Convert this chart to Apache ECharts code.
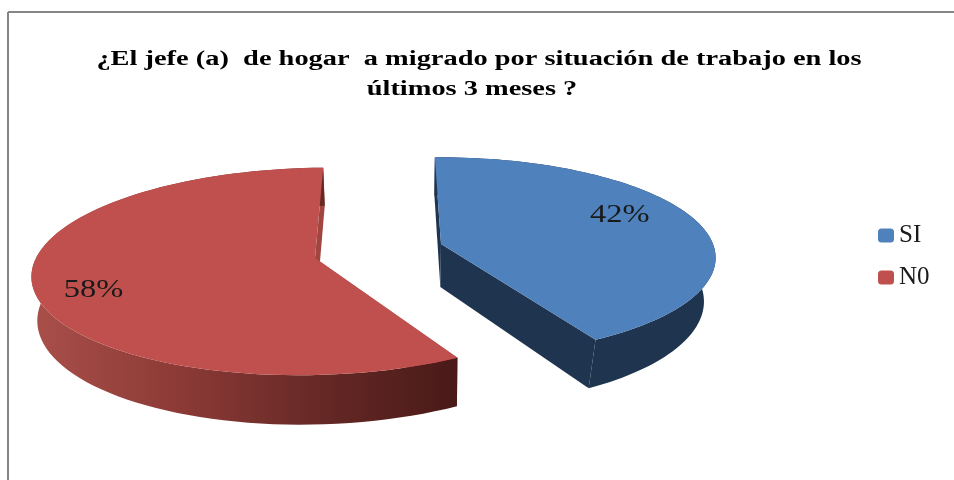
<!DOCTYPE html>
<html>
<head>
<meta charset="utf-8">
<style>
  html, body { margin: 0; padding: 0; background: #fff; }
  #chart { width: 954px; height: 480px; }
</style>
<script src="https://cdn.jsdelivr.net/npm/echarts@6/dist/echarts.min.js"></script>
</head>
<body>
<div id="chart"></div>
<script>
// datos
const sliceNames = ['SI', 'N0'];
const sliceValues = [42, 58];
const titleLines = [
  '¿El jefe (a)  de hogar  a migrado por situación de trabajo en los',
  'últimos 3 meses ?'
];

// forma de cada porcion (pastel 3D con perspectiva)
const vanishX = 424;
const tilt = 0.13;
const depth = 43;
const startDeg = -91;
const sliceShape = [
  { dx: 17, apexY: 244, rx: 272, ry: 98, base: 0.96, labelR: 0.7, labelDy: -11 },
  { dx: -109, apexY: 258, rx: 279, ry: 102, base: 0.985, labelR: 0.79, labelDy: 10 }
];
const sliceColors = ['#4F81BD', '#C0504D'];
const wallColors = ['#1F344E', '#A0453F'];
const rimFill = [
  '#1F344E',
  {
    type: 'linear', x: 33, y: 0, x2: 453, y2: 0, global: true,
    colorStops: [
      { offset: 0, color: '#A94F4A' },
      { offset: 0.35, color: '#8C3A36' },
      { offset: 0.7, color: '#642825' },
      { offset: 1, color: '#4A1A18' }
    ]
  }
];

const total = sliceValues.reduce((a, b) => a + b, 0);

function project(g, deg, r) {
  const t = deg * Math.PI / 180;
  const den = 1 - tilt * r * Math.sin(t);
  return [vanishX + (g.dx + g.rx * r * Math.cos(t)) / den, g.apexY + g.ry * r * Math.sin(t) / den, den];
}
function under(g, p) {
  return [vanishX + (p[0] - vanishX) * g.base, p[1] + depth / p[2]];
}

function makeSlice(i) {
  return function (params, api) {
    const g = sliceShape[i];
    let from = startDeg;
    for (let k = 0; k < i; k++) from += sliceValues[k] / total * 360;
    const sweep = api.value(0) / total * 360;

    const arc = [];
    for (let k = 0; k <= 90; k++) arc.push(project(g, from + sweep * k / 90, 1));
    const apex = project(g, 0, 0);
    const arcLow = arc.map(p => under(g, p));
    const apexLow = under(g, apex);
    const first = arc[0], last = arc[arc.length - 1];
    const top = [apex[0], apex[1]];
    const flat = arc.map(p => [p[0], p[1]]);

    const mid = project(g, from + sweep / 2, g.labelR);
    return {
      type: 'group',
      children: [
        { type: 'polygon', shape: { points: [top, [first[0], first[1]], arcLow[0], apexLow] }, style: { fill: wallColors[i] } },
        { type: 'polygon', shape: { points: [top, [last[0], last[1]], arcLow[arcLow.length - 1], apexLow] }, style: { fill: wallColors[i] } },
        { type: 'polygon', shape: { points: flat.concat(arcLow.slice().reverse()) }, style: { fill: rimFill[i] } },
        { type: 'polygon', shape: { points: [top].concat(flat) }, style: { fill: sliceColors[i] } },
        {
          type: 'text', x: mid[0], y: mid[1] + g.labelDy, scaleX: 1.25,
          style: {
            text: api.value(0) + '%', align: 'center', verticalAlign: 'middle',
            font: '26px "Liberation Serif"', fill: '#1a1a1a'
          }
        }
      ]
    };
  };
}

const chart = echarts.init(document.getElementById('chart'));
chart.setOption({
  animation: false,
  backgroundColor: '#fff',
  legend: {
    orient: 'vertical', left: 873, top: 218,
    itemWidth: 16, itemHeight: 14, itemGap: 17,
    data: sliceNames,
    textStyle: { fontFamily: 'Liberation Serif', fontSize: 25, color: '#1a1a1a' }
  },
  graphic: [
    { type: 'line', shape: { x1: 8, y1: 12, x2: 954, y2: 12 }, style: { stroke: '#868686', lineWidth: 2 } },
    { type: 'line', shape: { x1: 8, y1: 12, x2: 8, y2: 480 }, style: { stroke: '#868686', lineWidth: 2 } },
    {
      type: 'text', x: 479, y: 60, scaleX: 1.42,
      style: { text: titleLines[0], align: 'center', verticalAlign: 'middle', font: 'bold 20px "Liberation Serif"', fill: '#000' }
    },
    {
      type: 'text', x: 472, y: 90, scaleX: 1.42,
      style: { text: titleLines[1], align: 'center', verticalAlign: 'middle', font: 'bold 20px "Liberation Serif"', fill: '#000' }
    }
  ],
  series: sliceNames.map((name, i) => ({
    type: 'custom',
    name: name,
    coordinateSystem: 'none',
    itemStyle: { color: sliceColors[i] },
    renderItem: makeSlice(i),
    data: [[sliceValues[i]]]
  }))
});
</script>
</body>
</html>
